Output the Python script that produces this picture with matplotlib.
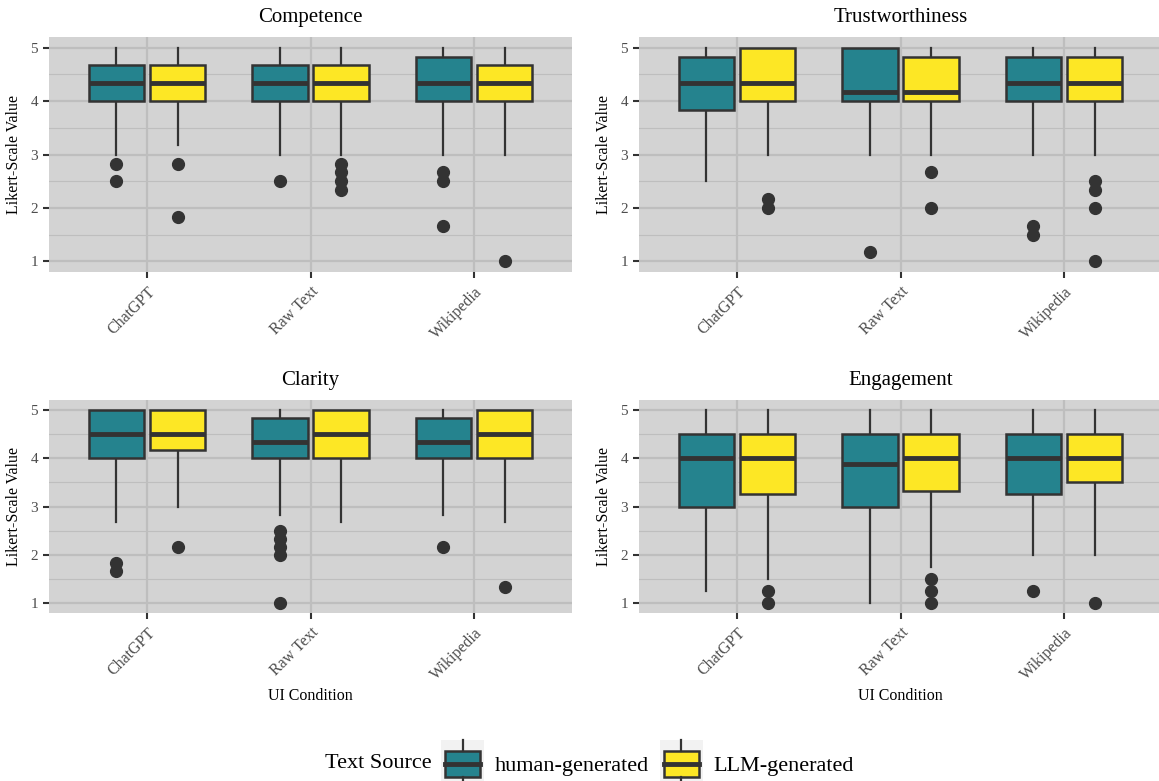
import matplotlib
matplotlib.use('Agg')
import matplotlib.pyplot as plt
from matplotlib.patches import Rectangle, Patch
from matplotlib.lines import Line2D
from matplotlib.legend_handler import HandlerBase
from matplotlib.ticker import MultipleLocator

plt.rcParams['font.family'] = ['Liberation Serif', 'DejaVu Serif']

conditions = ['ChatGPT', 'Raw Text', 'Wikipedia']
sources = ['human-generated', 'LLM-generated']
metrics = ['Competence', 'Trustworthiness', 'Clarity', 'Engagement']

# order: ChatGPT-human, ChatGPT-LLM, Raw-human, Raw-LLM, Wiki-human, Wiki-LLM
comp_lo = [3, 3.17, 3, 3, 3, 3]
comp_q1 = [4, 4, 4, 4, 4, 4]
comp_med = [4.33, 4.33, 4.33, 4.33, 4.33, 4.33]
comp_q3 = [4.67, 4.67, 4.67, 4.67, 4.83, 4.67]
comp_hi = [5, 5, 5, 5, 5, 5]
comp_out = [[2.83, 2.5], [2.83, 1.83], [2.5], [2.83, 2.67, 2.5, 2.33], [2.67, 2.5, 1.67], [1.0]]

trust_lo = [2.5, 3, 3, 3, 3, 3]
trust_q1 = [3.83, 4, 4, 4, 4, 4]
trust_med = [4.33, 4.33, 4.17, 4.17, 4.33, 4.33]
trust_q3 = [4.83, 5, 5, 4.83, 4.83, 4.83]
trust_hi = [5, 5, 5, 5, 5, 5]
trust_out = [[], [2.17, 2.0], [1.17], [2.67, 2.0], [1.67, 1.5], [2.5, 2.33, 2.0, 1.0]]

clar_lo = [2.67, 3, 2.83, 2.67, 2.83, 2.67]
clar_q1 = [4, 4.17, 4, 4, 4, 4]
clar_med = [4.5, 4.5, 4.33, 4.5, 4.33, 4.5]
clar_q3 = [5, 5, 4.83, 5, 4.83, 5]
clar_hi = [5, 5, 5, 5, 5, 5]
clar_out = [[1.83, 1.67], [2.17], [2.5, 2.33, 2.17, 2.0, 1.0], [], [2.17], [1.33]]

eng_lo = [1.25, 1.5, 1.0, 1.75, 2.0, 2.0]
eng_q1 = [3.0, 3.25, 3.0, 3.31, 3.25, 3.5]
eng_med = [4.0, 4.0, 3.875, 4.0, 4.0, 4.0]
eng_q3 = [4.5, 4.5, 4.5, 4.5, 4.5, 4.5]
eng_hi = [5, 5, 5, 5, 5, 5]
eng_out = [[], [1.25, 1.0], [], [1.5, 1.25, 1.0], [1.25], [1.0]]

panel_data = {
    'Competence': (comp_lo, comp_q1, comp_med, comp_q3, comp_hi, comp_out),
    'Trustworthiness': (trust_lo, trust_q1, trust_med, trust_q3, trust_hi, trust_out),
    'Clarity': (clar_lo, clar_q1, clar_med, clar_q3, clar_hi, clar_out),
    'Engagement': (eng_lo, eng_q1, eng_med, eng_q3, eng_hi, eng_out),
}

TEAL = '#25838e'
YELLOW = '#fde725'
EDGE = '#333333'
PANEL = '#d3d3d3'
GRID = '#bebebe'

W, H = 1159, 781
fig = plt.figure(figsize=(W / 100, H / 100), dpi=100)

# panel rectangles in pixels: left, top, width, height
boxes_px = [(49, 37, 523, 235), (639, 37, 523, 235),
            (49, 400, 523, 213), (639, 400, 523, 213)]

for k, m in enumerate(metrics):
    l, t, w, h = boxes_px[k]
    ax = fig.add_axes([l / W, 1 - (t + h) / H, w / W, h / H])
    ax.set_facecolor(PANEL)
    lo, q1, med, q3, hi, out = panel_data[m]
    stats = []
    pos = []
    cols = []
    for i in range(len(conditions)):
        for j in range(len(sources)):
            n = i * 2 + j
            stats.append(dict(whislo=lo[n], q1=q1[n], med=med[n], q3=q3[n], whishi=hi[n], fliers=out[n]))
            pos.append(i + 1 + (-0.1875 if j == 0 else 0.1875))
            cols.append(TEAL if j == 0 else YELLOW)
    bp = ax.bxp(stats, positions=pos, widths=0.34, patch_artist=True, showcaps=False,
                boxprops=dict(edgecolor=EDGE, linewidth=1.8),
                medianprops=dict(color=EDGE, linewidth=3.5, solid_capstyle='butt'),
                whiskerprops=dict(color=EDGE, linewidth=1.6),
                flierprops=dict(marker='o', markerfacecolor=EDGE, markeredgecolor=EDGE, markersize=8.5),
                manage_ticks=False)
    for patch, c in zip(bp['boxes'], cols):
        patch.set_facecolor(c)
        patch.set_zorder(3)
    for ln in bp['medians']:
        ln.set_zorder(4)
    ax.set_xlim(0.4, 3.6)
    ax.set_ylim(0.8, 5.2)
    ax.set_xticks([1, 2, 3])
    ax.set_xticklabels(conditions, rotation=45, ha='right', rotation_mode='anchor', color='#4d4d4d', fontsize=11.5)
    ax.set_yticks([1, 2, 3, 4, 5])
    ax.yaxis.set_minor_locator(MultipleLocator(0.5))
    ax.tick_params(axis='y', which='major', labelsize=11, labelcolor='#4d4d4d', color=EDGE, length=4.5, width=1.5)
    ax.tick_params(axis='y', which='minor', length=0)
    ax.tick_params(axis='x', color=EDGE, length=4.5, width=1.5, pad=4)
    ax.grid(True, which='major', color=GRID, linewidth=1.6)
    ax.grid(True, which='minor', axis='y', color=GRID, linewidth=0.8)
    ax.set_axisbelow(True)
    for s in ax.spines.values():
        s.set_visible(False)
    ax.set_title(m, fontsize=15, pad=11)
    ax.set_ylabel('Likert-Scale Value', fontsize=11.5, labelpad=6)
    if k >= 2:
        ax.set_xlabel('UI Condition', fontsize=11.5, labelpad=4)


class BoxKey(HandlerBase):
    def create_artists(self, legend, orig_handle, xdescent, ydescent, width, height, fontsize, trans):
        x0, y0 = -xdescent, -ydescent
        bg = Rectangle((x0, y0), width, height, facecolor='#f2f2f2', edgecolor='none', transform=trans)
        bx = Rectangle((x0 + 0.1 * width, y0 + 0.22 * height), 0.8 * width, 0.56 * height,
                       facecolor=orig_handle.get_facecolor(), edgecolor=EDGE, linewidth=1.8, transform=trans)
        md = Line2D([x0 + 0.1 * width, x0 + 0.9 * width], [y0 + 0.5 * height] * 2,
                    color=EDGE, linewidth=3.5, transform=trans)
        w1 = Line2D([x0 + 0.5 * width] * 2, [y0, y0 + 0.22 * height], color=EDGE, linewidth=1.6, transform=trans)
        w2 = Line2D([x0 + 0.5 * width] * 2, [y0 + 0.78 * height, y0 + height], color=EDGE, linewidth=1.6, transform=trans)
        return [bg, bx, md, w1, w2]


handles = [Patch(facecolor=TEAL), Patch(facecolor=YELLOW)]
fig.text(325 / W, 1 - 763 / H, 'Text Source', fontsize=16, va='center', ha='left')
fig.legend(handles, sources, loc='center left', bbox_to_anchor=(441 / W, 1 - 764 / H),
           ncol=2, frameon=False, fontsize=16, borderpad=0, borderaxespad=0,
           handlelength=1.95, handleheight=2.9, handletextpad=0.45, columnspacing=0.5,
           handler_map={Patch: BoxKey()})

fig.savefig('out.png', dpi=100)
